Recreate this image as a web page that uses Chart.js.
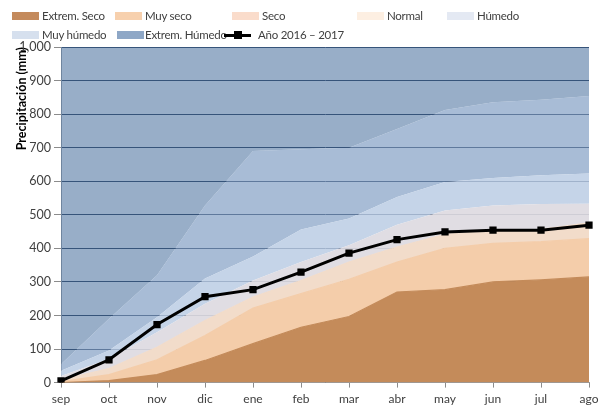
<!DOCTYPE html>
<html>
<head>
<meta charset="utf-8">
<script src="https://cdn.jsdelivr.net/npm/chart.js@4/dist/chart.umd.min.js"></script>
<style>
  html, body { margin: 0; padding: 0; background: #fff; }
  #wrap { position: relative; width: 610px; height: 410px; }
  #legend { position: absolute; left: 0; top: 0; width: 610px; height: 45px; font-family: Lato, "Liberation Sans", sans-serif; font-size: 11.5px; letter-spacing: -0.25px; color: #404040; }
  .li { position: absolute; white-space: nowrap; line-height: 14px; }
  .sw { position: absolute; width: 27px; height: 8px; }
  .ln { position: absolute; width: 27px; height: 3px; background: #000; }
  .mk { position: absolute; width: 8px; height: 8px; background: #000; }
</style>
</head>
<body>
<div id="wrap">
  <canvas id="c" width="610" height="410"></canvas>
  <div id="legend"></div>
</div>
<script>
// ---- data ----
const months = ['sep','oct','nov','dic','ene','feb','mar','abr','may','jun','jul','ago'];
// upper boundary of each climatological band (mm, cumulative)
const extremSeco   = [0, 6, 24, 66, 116, 165, 197, 270, 277, 300, 306, 315];
const muySeco      = [3, 24, 68, 140, 222, 265, 308, 359, 400, 415, 420, 429];
const seco         = [8, 42, 105, 185, 255, 304, 359, 404, 442, 452, 457, 476];
const normal       = [20, 70, 150, 235, 304, 359, 409, 470, 513, 528, 532, 533];
const humedo       = [35, 96, 195, 310, 376, 456, 489, 553, 598, 610, 618, 623];
const muyHumedo    = [55, 190, 320, 528, 690, 695, 700, 756, 812, 835, 843, 854];
const extremHumedo = [1000, 1000, 1000, 1000, 1000, 1000, 1000, 1000, 1000, 1000, 1000, 1000];
// observed accumulated precipitation
const anio = [5, 68, 173, 256, 277, 329, 386, 426, 449, 454, 454, 469];
const yTicks = [0, 100, 200, 300, 400, 500, 600, 700, 800, 900, 1000];

const bandNames = ['Extrem. Seco','Muy seco','Seco','Normal','Húmedo','Muy húmedo','Extrem. Húmedo'];
const bandData = [extremSeco, muySeco, seco, normal, humedo, muyHumedo, extremHumedo];
const lineName = 'Año 2016 – 2017';

// ---- styles ----
const bandFill = [
  'rgb(196,139,90)',
  'rgb(244,205,170)',
  'rgb(242,220,202)',
  'rgba(222,218,225,0.93)',
  'rgba(187,204,228,0.85)',
  'rgba(131,159,196,0.70)',
  'rgba(83,120,163,0.60)'
];
const bandOpaque = [true, true, true, false, false, false, false];
const legendFill = ['#c48a5c','#f7d0ad','#fadccb','#fdefe2','#e4e9f3','#d6e0ee','#8ea7c6'];

const datasets = bandData.map((d, i) => ({
  label: bandNames[i],
  data: d,
  backgroundColor: bandFill[i],
  borderColor: bandOpaque[i] ? bandFill[i] : 'rgba(0,0,0,0)',
  borderWidth: bandOpaque[i] ? 1.2 : 0,
  pointRadius: 0,
  pointHoverRadius: 0,
  fill: i === 0 ? 'origin' : '-1',
  tension: 0,
  order: 1
}));
datasets.push({
  label: lineName,
  data: anio,
  borderColor: '#000',
  backgroundColor: '#000',
  borderWidth: 3,
  pointStyle: 'rect',
  pointRadius: 3,
  pointBackgroundColor: '#000',
  pointBorderColor: '#000',
  fill: false,
  tension: 0,
  order: -1
});

const FONT = 'Lato, "Liberation Sans", sans-serif';

new Chart(document.getElementById('c'), {
  type: 'line',
  data: { labels: months, datasets },
  options: {
    responsive: false,
    animation: false,
    devicePixelRatio: 1,
    layout: { padding: { left: 8, right: 21, top: 47, bottom: 0 } },
    plugins: { legend: { display: false }, tooltip: { enabled: false } },
    scales: {
      x: {
        offset: false,
        grid: { drawOnChartArea: false, drawTicks: true, tickLength: 5, tickColor: '#8c8c8c' },
        border: { color: '#9a9a9a' },
        ticks: { color: '#404040', font: { family: FONT, size: 12 }, padding: 4, maxRotation: 0, autoSkip: false }
      },
      y: {
        min: 0, max: 1000,
        afterBuildTicks: s => { s.ticks = yTicks.map(v => ({ value: v })); },
        afterFit: s => { s.width = 53; },
        grid: { color: 'rgb(10,30,60)', lineWidth: 1, drawTicks: true, tickLength: 7, tickColor: '#8c8c8c' },
        border: { color: '#9a9a9a' },
        ticks: { color: '#404040', font: { family: FONT, size: 12.5 }, padding: 3 },
        title: { display: true, text: 'Precipitación (mm)', align: 'end', color: '#000',
                 font: { family: FONT, size: 12.5, weight: 'bold' }, padding: { top: 6, bottom: 0 } }
      }
    }
  }
});

// ---- HTML legend ----
const legendPos = [
  { sx: 12, tx: 42, row: 0 }, { sx: 115, tx: 145, row: 0 }, { sx: 232, tx: 262, row: 0 },
  { sx: 357, tx: 387, row: 0 }, { sx: 447, tx: 477, row: 0 },
  { sx: 12, tx: 42, row: 1 }, { sx: 117, tx: 145, row: 1 }, { sx: 224, tx: 258, row: 1 }
];
const rowY = [16, 35];
const lg = document.getElementById('legend');
const names = bandNames.concat([lineName]);
names.forEach((n, i) => {
  const p = legendPos[i];
  const cy = rowY[p.row];
  if (i < bandNames.length) {
    const sw = document.createElement('div');
    sw.className = 'sw';
    sw.style.left = p.sx + 'px';
    sw.style.top = (cy - 4) + 'px';
    sw.style.background = legendFill[i];
    lg.appendChild(sw);
  } else {
    const ln = document.createElement('div');
    ln.className = 'ln';
    ln.style.left = p.sx + 'px';
    ln.style.top = (cy - 1.5) + 'px';
    lg.appendChild(ln);
    const mk = document.createElement('div');
    mk.className = 'mk';
    mk.style.left = (p.sx + 10) + 'px';
    mk.style.top = (cy - 4) + 'px';
    lg.appendChild(mk);
  }
  const t = document.createElement('span');
  t.className = 'li';
  t.textContent = n;
  t.style.left = p.tx + 'px';
  t.style.top = (cy - 7) + 'px';
  lg.appendChild(t);
});
</script>
</body>
</html>
